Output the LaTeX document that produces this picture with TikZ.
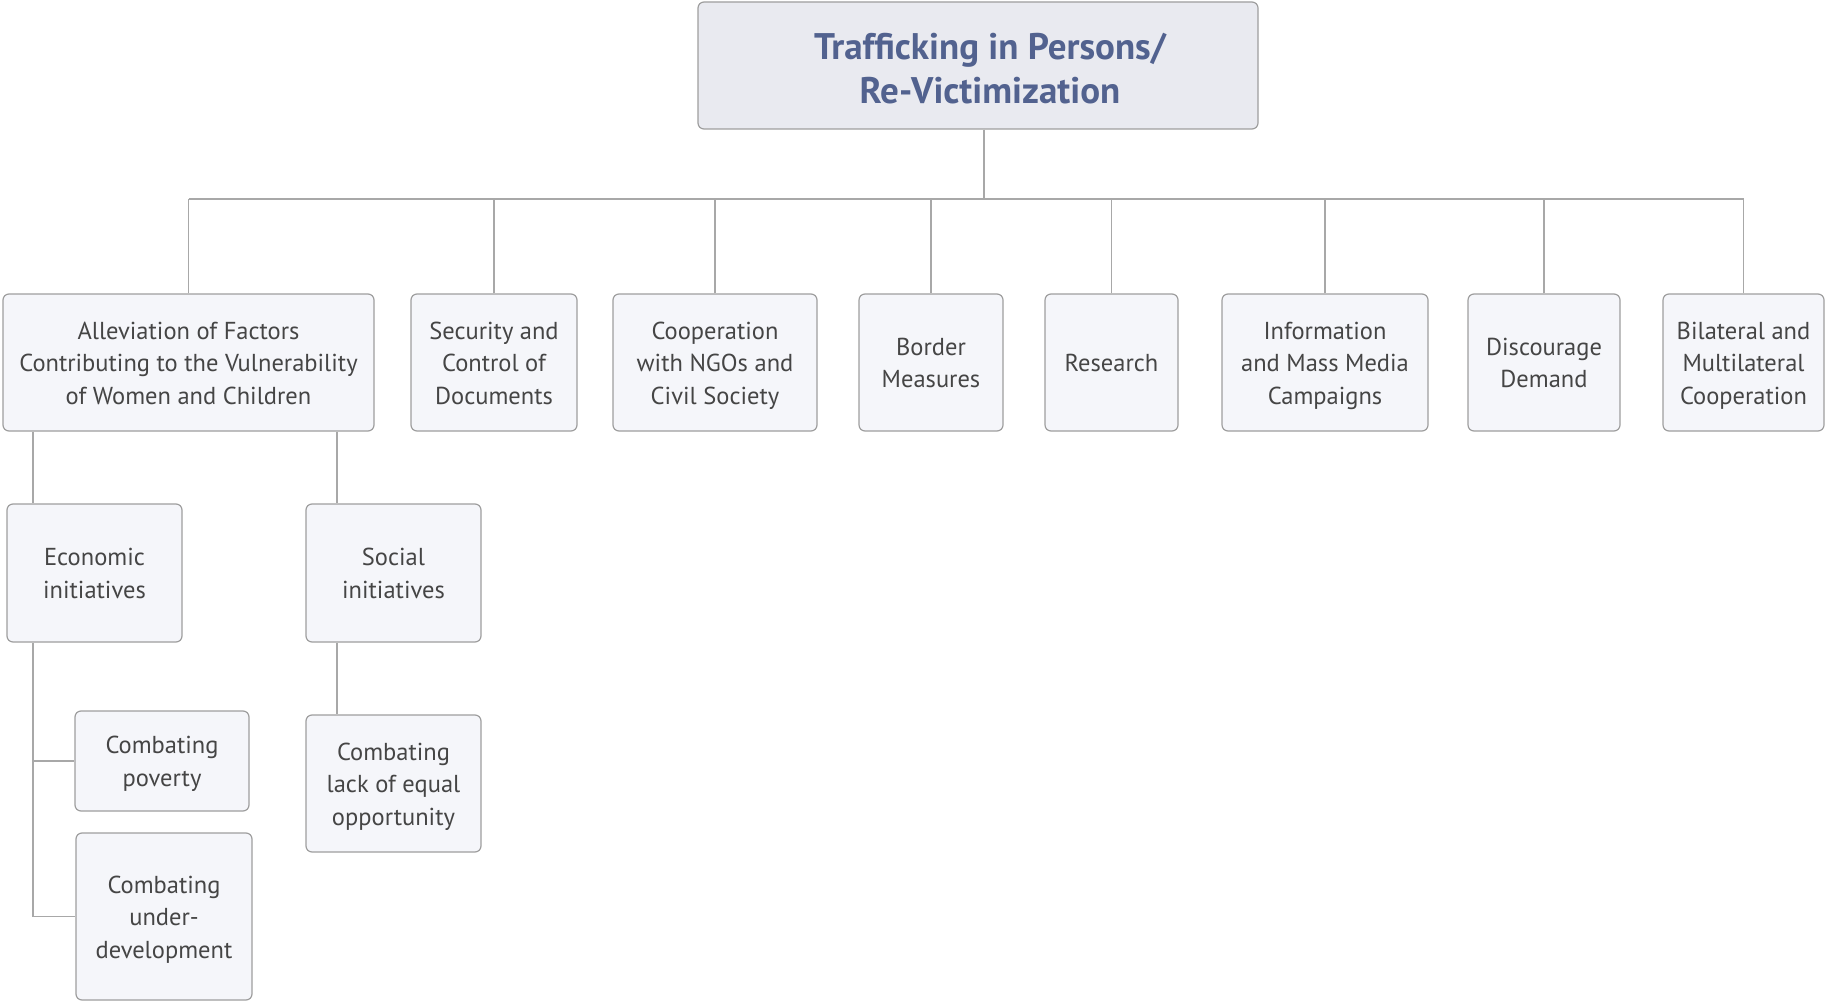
\documentclass[tikz,border=0pt]{standalone}
\usepackage{fontspec}
\setmainfont{PT Sans}
\definecolor{boxline}{HTML}{9E9E9E}
\definecolor{linecol}{HTML}{A8A8A8}
\definecolor{boxfill}{HTML}{F5F6FA}
\definecolor{topfill}{HTML}{E9EAF0}
\definecolor{txt}{HTML}{454545}
\definecolor{titletxt}{HTML}{52628F}
\newcommand\boxtext[1]{\raisebox{-2.5pt}[\height][\depth]{\begin{tabular}{@{}c@{}}#1\end{tabular}}}
\begin{document}
\begin{tikzpicture}[x=1pt,y=-1pt,
  box/.style={draw=boxline,line width=1.2pt,fill=boxfill,rounded corners=6pt,align=center,
    inner sep=0pt,text=txt,font=\fontsize{24.5}{32.5}\selectfont},
  topbox/.style={box,fill=topfill,text=titletxt,font=\bfseries\fontsize{37}{43}\selectfont},
  conn/.style={draw=linecol,line width=1.5pt}]
\useasboundingbox (0,0) rectangle (1825,1003);
% top
\node[topbox,minimum width=560pt,minimum height=127pt] (top) at (978,65.5)
  {\raisebox{-7pt}[\height][\depth]{\begin{tabular}{@{}c@{}}\hspace*{24pt}Trafficking in Persons/\\[1pt]\hspace*{24pt}Re-Victimization\end{tabular}}};
% level 1
\node[box,minimum width=371pt,minimum height=137pt] (b1) at (188.5,362.5) {\boxtext{Alleviation of Factors\\Contributing to the Vulnerability\\of Women and Children}};
\node[box,minimum width=166pt,minimum height=137pt] (b2) at (494,362.5) {\boxtext{Security and\\Control of\\Documents}};
\node[box,minimum width=204pt,minimum height=137pt] (b3) at (715,362.5) {\boxtext{Cooperation\\with NGOs and\\Civil Society}};
\node[box,minimum width=144pt,minimum height=137pt] (b4) at (931,362.5) {\boxtext{Border\\Measures}};
\node[box,minimum width=133pt,minimum height=137pt] (b5) at (1111.5,362.5) {\boxtext{Research}};
\node[box,minimum width=206pt,minimum height=137pt] (b6) at (1325,362.5) {\boxtext{Information\\and Mass Media\\Campaigns}};
\node[box,minimum width=152pt,minimum height=137pt] (b7) at (1544,362.5) {\boxtext{Discourage\\Demand}};
\node[box,minimum width=161pt,minimum height=137pt] (b8) at (1743.5,362.5) {\boxtext{Bilateral and\\Multilateral\\Cooperation}};
% level 2
\node[box,minimum width=175pt,minimum height=138pt] (econ) at (94.5,573) {\boxtext{Economic\\initiatives}};
\node[box,minimum width=175pt,minimum height=138pt] (soc) at (393.5,573) {\boxtext{Social\\initiatives}};
\node[box,minimum width=174pt,minimum height=100pt] (pov) at (162,761) {\boxtext{Combating\\poverty}};
\node[box,minimum width=176pt,minimum height=167pt] (under) at (164,916.5) {\boxtext{Combating\\under-\\development}};
\node[box,minimum width=175pt,minimum height=137pt] (lack) at (393.5,783.5) {\boxtext{Combating\\lack of equal\\opportunity}};
% connectors
\coordinate (bus) at (984,199);
\coordinate (tx) at (984,0);
\coordinate (ex) at (33,0);
\coordinate (sx) at (337,0);
\draw[conn] (top.south -| tx) -- (bus);
\draw[conn] (b1.north |- bus) -- (b8.north |- bus);
\foreach \n in {b1,b2,b3,b4,b5,b6,b7,b8}{
  \draw[conn] (\n.north) -- (\n.north |- bus);
}
\draw[conn] (b1.south -| ex) -- (econ.north -| ex);
\draw[conn] (b1.south -| sx) -- (soc.north -| sx);
\draw[conn] (econ.south -| ex) -- (ex |- under.west) -- (under.west);
\draw[conn] (ex |- pov.west) -- (pov.west);
\draw[conn] (soc.south -| sx) -- (lack.north -| sx);
\end{tikzpicture}
\end{document}
